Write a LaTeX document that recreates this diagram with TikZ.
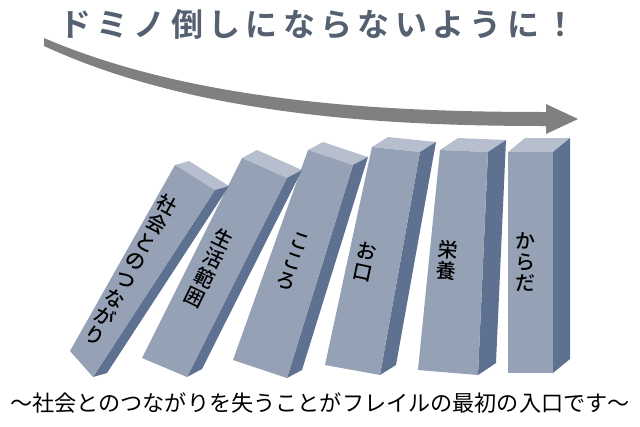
\documentclass[tikz,border=0pt]{standalone}
\usepackage{fontspec}
\newfontfamily\jp{Noto Sans CJK JP}
\newfontfamily\jpm{Noto Sans CJK JP Medium}
\newfontfamily\jpb{Noto Sans CJK JP Bold}
\usetikzlibrary{calc}
\definecolor{dfront}{HTML}{95A1B5}
\definecolor{dtop}{HTML}{B7BFCE}
\definecolor{dside}{HTML}{5F7190}
\definecolor{arrowgray}{HTML}{808080}
\definecolor{titlegray}{HTML}{556070}
\newcommand{\dom}[5]{%
  \fill[dtop] (#1) -- ($(#1)+(#5)$) -- ($(#2)+(#5)$) -- (#2) -- cycle;
  \fill[dside] (#2) -- ($(#2)+(#5)$) -- ($(#3)+(#5)$) -- (#3) -- cycle;
  \fill[dfront] (#1) -- (#2) -- (#3) -- (#4) -- cycle;}
\tikzset{lbl/.style={font=\jpm\fontsize{15}{16}\selectfont, align=center, inner sep=0pt}}
\begin{document}
\begin{tikzpicture}[x=0.75pt,y=-0.75pt]
\useasboundingbox (0,0) rectangle (640,426);
\fill[white] (0,0) rectangle (640,426);
% arrow
\fill[arrowgray] (44,38) .. controls (200,105) and (400,112) .. (546,112)
  -- (546,104) -- (578,119) -- (546,134) -- (546,126)
  .. controls (400,126) and (200,118) .. (44,46) -- cycle;
% dominoes right to left
\dom{508,152}{553,152}{553,373}{508,373}{17,-14}
\dom{440,150}{488,152}{478,375}{418,370}{18,-12}
\dom{372,147}{420,152}{380,375}{325,365}{16,-10}
\dom{308,150}{353,165}{287,378}{233,360}{15,-8}
\dom{242,158}{287,178}{187,377}{142,358}{15,-8}
\dom{175,165}{215,190}{93,377}{70,351}{14,-4}
% labels
\node[lbl,rotate=-29] (l1) at (131,270) {社\\会\\と\\の\\つ\\な\\が\\り};
\node[lbl,rotate=-26] (l2) at (209,268) {生\\活\\範\\囲};
\node[lbl,rotate=-19] (l3) at (293,262) {こ\\こ\\ろ};
\node[lbl,rotate=-12] (l4) at (365,262) {お\\口};
\node[lbl,rotate=-5] (l5) at (447,260) {栄\\養};
\node[lbl] (l6) at (525,262) {か\\ら\\だ};
% texts
\node[font=\jpb\fontsize{24}{26}\selectfont, text=titlegray] (title) at (318,24) {ド\,ミ\,ノ\,倒\,し\,に\,な\,ら\,な\,い\,よ\,う\,に\,！};
\node[font=\jp\fontsize{16.6}{18}\selectfont] (foot) at (320,403) {～社会とのつながりを失うことがフレイルの最初の入口です～};
\end{tikzpicture}
\end{document}
